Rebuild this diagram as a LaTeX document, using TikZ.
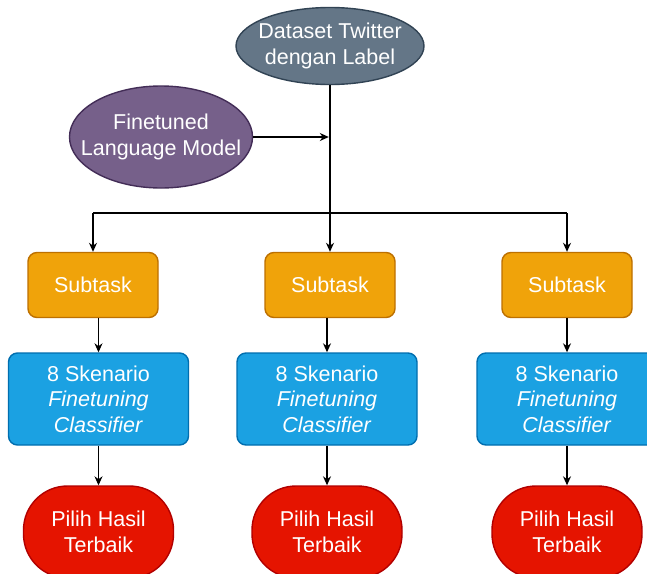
\documentclass[tikz,border=0pt]{standalone}
\usepackage{fontspec}
\setmainfont{Liberation Sans}
\usetikzlibrary{arrows.meta,shapes.geometric}
\definecolor{slatef}{HTML}{647687}\definecolor{slated}{HTML}{314354}
\definecolor{purpf}{HTML}{76608A}\definecolor{purpd}{HTML}{432D57}
\definecolor{orgf}{HTML}{F0A30A}\definecolor{orgd}{HTML}{BD7000}
\definecolor{bluef}{HTML}{1BA1E2}\definecolor{blued}{HTML}{006EAF}
\definecolor{redf}{HTML}{E51400}\definecolor{redd}{HTML}{B20000}
\tikzset{
  base/.style={line width=1.4pt, text=white, align=center, inner sep=0pt,
    font=\fontsize{21.5}{25.5}\selectfont},
  elab/.style={text=white, align=center, font=\fontsize{21.5}{25.5}\selectfont},
  slatebox/.style={base, ellipse, fill=slatef, draw=slated, minimum width=188pt, minimum height=77pt},
  purpbox/.style={base, ellipse, fill=purpf, draw=purpd, minimum width=183pt, minimum height=102pt},
  subbox/.style={base, rectangle, rounded corners=9pt, fill=orgf, draw=orgd, minimum width=130pt, minimum height=65pt},
  scenbox/.style={base, rectangle, rounded corners=9pt, fill=bluef, draw=blued, minimum width=180pt, minimum height=92pt},
  bestbox/.style={base, rectangle, rounded corners=44pt, fill=redf, draw=redd, minimum width=150pt, minimum height=92pt},
  arr/.style={line width=1.3pt, -{Stealth[length=9pt,width=8pt]}},
}
\begin{document}
\begin{tikzpicture}[x=1pt,y=-1pt]
\clip (0,0) rectangle (647,573);
\fill[white] (0,0) rectangle (647,573);
\node[slatebox, label={[elab]center:Dataset Twitter\\dengan Label}] (ds) at (330,46) {};
\node[purpbox, label={[elab]center:Finetuned\\Language Model}] (ft) at (161,137) {};
\node[subbox] (s1) at (93,285) {Subtask};
\node[subbox] (s2) at (330,285) {Subtask};
\node[subbox] (s3) at (567,285) {Subtask};
\node[scenbox] (c1) at (98.5,399) {8 Skenario\\\textit{Finetuning}\\\textit{Classifier}};
\node[scenbox] (c2) at (327,399) {8 Skenario\\\textit{Finetuning}\\\textit{Classifier}};
\node[scenbox] (c3) at (567,399) {8 Skenario\\\textit{Finetuning}\\\textit{Classifier}};
\node[bestbox] (r1) at (98.5,532) {Pilih Hasil\\Terbaik};
\node[bestbox] (r2) at (327,532) {Pilih Hasil\\Terbaik};
\node[bestbox] (r3) at (567,532) {Pilih Hasil\\Terbaik};
\coordinate (join) at (330,137);
\coordinate (split) at (330,213);
\draw[line width=2.5pt] (ds.south) -- (split);
\draw[arr, shorten >=1.2pt] (ft.east) -- (join);
\draw[line width=1.3pt] (split) -- (s1.north |- split);
\draw[line width=1.3pt] (split) -- (s3.north |- split);
\draw[arr] (s1.north |- split) -- (s1.north);
\draw[arr] (split) -- (s2.north);
\draw[arr] (s3.north |- split) -- (s3.north);
\draw[arr] (c1.north |- s1.south) -- (c1.north);
\draw[arr] (c2.north |- s2.south) -- (c2.north);
\draw[arr] (c3.north |- s3.south) -- (c3.north);
\draw[arr] (c1.south) -- (r1.north);
\draw[arr] (c2.south) -- (r2.north);
\draw[arr] (c3.south) -- (r3.north);
\end{tikzpicture}
\end{document}
